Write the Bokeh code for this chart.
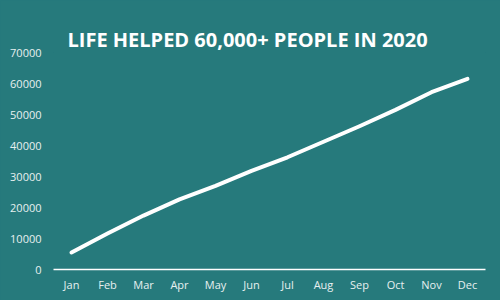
from bokeh.plotting import figure
from bokeh.models import Range1d, FixedTicker, Title
from bokeh.embed import file_html
from bokeh.resources import INLINE

months = ["Jan", "Feb", "Mar", "Apr", "May", "Jun", "Jul", "Aug", "Sep", "Oct", "Nov", "Dec"]
people = [5500, 11600, 17400, 22600, 27000, 31800, 36200, 41200, 46200, 51500, 57200, 61500]
y_ticks = [0, 10000, 20000, 30000, 40000, 50000, 60000, 70000]
title_text = "LIFE HELPED 60,000+ PEOPLE IN 2020"

BG = "#267A7C"

p = figure(width=500, height=300, title=".",
           x_range=months, y_range=Range1d(0, 70000),
           output_backend="svg", toolbar_location=None,
           background_fill_color=BG, border_fill_color=BG, outline_line_color=None,
           min_border_left=53, min_border_right=15, min_border_top=52, min_border_bottom=31)
p.styles = {"background-color": BG}

# invisible spacer (figure title slot) between the real title and the plotting area
p.title.text_alpha = 0
p.title.text_font_size = "2px"
p.title.standoff = 15

main_title = Title(text=title_text, align="left", offset=14, standoff=0,
                   text_color="white", text_font="Open Sans",
                   text_font_size="20px", text_font_style="bold")
p.add_layout(main_title, "above")

p.line(months, people, line_color="white", line_width=4, line_cap="round", line_join="round")

p.xgrid.grid_line_color = None
p.ygrid.grid_line_color = None

p.yaxis.ticker = FixedTicker(ticks=y_ticks)
p.yaxis.axis_line_color = None
p.yaxis.major_tick_line_color = None
p.yaxis.major_tick_out = 0
p.yaxis.minor_tick_line_color = None
p.yaxis.major_label_standoff = 12
p.yaxis.major_label_text_color = "#E6F0F0"
p.yaxis.major_label_text_font = "Open Sans"
p.yaxis.major_label_text_font_size = "11px"
p.yaxis.formatter.use_scientific = False

p.xaxis.axis_line_color = "white"
p.xaxis.axis_line_width = 1.5
p.xaxis.major_tick_line_color = None
p.xaxis.major_tick_out = 0
p.xaxis.minor_tick_line_color = None
p.xaxis.major_label_standoff = 7
p.xaxis.major_label_text_color = "#E6F0F0"
p.xaxis.major_label_text_font = "Open Sans"
p.xaxis.major_label_text_font_size = "11px"
p.x_range.range_padding = 0

open("out.html", "w").write(file_html(p, INLINE))
